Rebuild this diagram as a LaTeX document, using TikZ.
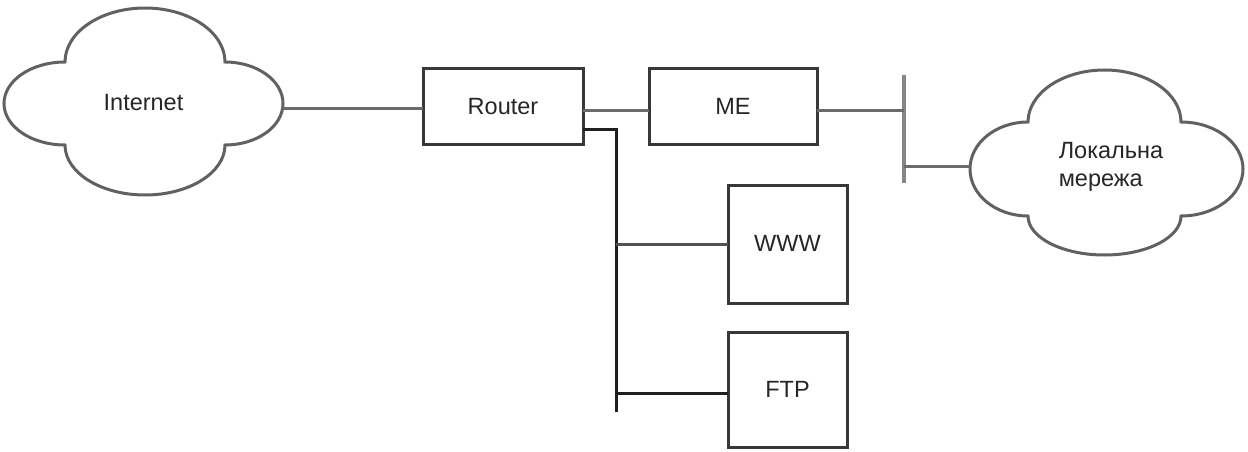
\documentclass[tikz,border=0pt]{standalone}
\usepackage{fontspec}
\setmainfont{Liberation Sans}
\begin{document}
\begin{tikzpicture}[x=1pt,y=-1pt,
  lbl/.style={font=\fontsize{23.5}{28}\selectfont, text=black!85},
  box/.style={draw=black!78, line width=3pt, fill=white, inner sep=0pt, outer sep=0pt, lbl},
  cloudbox/.style={inner sep=0pt, outer sep=0pt, lbl},
  cloudline/.style={draw=black!62, line width=3pt, fill=white, line join=miter},
  link/.style={line width=3pt, draw=black!58},
  darklink/.style={line width=3pt, draw=black!88},
  barline/.style={line width=4pt, draw=black!48}]
\useasboundingbox (0,0) rectangle (1248,452);
\newcommand\mycloud[8]{%
  \pgfmathsetmacro\cmx{(#5+#6)/2}%
  \pgfmathsetmacro\cmy{(#7+#8)/2}%
  \path[cloudline] (#5,#7)
   .. controls (#5,{#7-0.552*(#7-#3)}) and ({\cmx-0.552*(\cmx-#5)},#3) .. (\cmx,#3)
   .. controls ({\cmx+0.552*(#6-\cmx)},#3) and (#6,{#7-0.552*(#7-#3)}) .. (#6,#7)
   .. controls ({#6+0.552*(#2-#6)},#7) and (#2,{\cmy-0.552*(\cmy-#7)}) .. (#2,\cmy)
   .. controls (#2,{\cmy+0.552*(#8-\cmy)}) and ({#6+0.552*(#2-#6)},#8) .. (#6,#8)
   .. controls (#6,{#8+0.552*(#4-#8)}) and ({\cmx+0.552*(#6-\cmx)},#4) .. (\cmx,#4)
   .. controls ({\cmx-0.552*(\cmx-#5)},#4) and (#5,{#8+0.552*(#4-#8)}) .. (#5,#8)
   .. controls ({#5-0.552*(#5-#1)},#8) and (#1,{\cmy+0.552*(#8-\cmy)}) .. (#1,\cmy)
   .. controls (#1,{\cmy-0.552*(\cmy-#7)}) and ({#5-0.552*(#5-#1)},#7) .. cycle;}
% clouds
\mycloud{4}{283}{8}{195}{65}{225}{62}{145}
\mycloud{970}{1243}{70}{255}{1028}{1181}{122}{216}
\node[cloudbox, minimum width=279pt, minimum height=187pt] (inet) at (143.5,103) {Internet};
\node[cloudbox, align=left] (lan) at (1111,167) {Локальна\\мережа};
\coordinate (lanL) at (970,166);
% boxes
\node[box, minimum width=160pt, minimum height=75pt] (router) at (503,106.5) {Router};
\node[box, minimum width=168pt, minimum height=75pt] (me) at (733,106.5) {ME};
\node[box, minimum width=119pt, minimum height=118pt] (www) at (787.5,244) {\raisebox{2pt}{WWW}};
\node[box, minimum width=119pt, minimum height=115pt] (ftp) at (787.5,389.5) {FTP};
% bar
\coordinate (bartop) at (903.5,75);
\coordinate (barbot) at (903.5,183);
\draw[barline] (bartop) -- (barbot);
% links
\draw[link] ([yshift=-1.5pt]router.west -| inet.east) -- ([yshift=-1.5pt]router.west);
\draw[link] ([yshift=-3.5pt]router.east) -- ([yshift=-3.5pt]me.west);
\draw[link] ([yshift=-3.5pt]me.east) -- ([yshift=-3.5pt]me.east -| bartop);
\draw[link] (lanL -| bartop) -- (lanL);
\coordinate (branch) at (616,129);
\coordinate (branchend) at (616,412);
\draw[darklink] (router.east |- branch) -- (branch) -- (branchend);
\draw[link, draw=black!68] (branch |- www.west) -- (www.west);
\draw[darklink] ([yshift=-3.5pt]branch |- ftp.west) -- ([yshift=-3.5pt]ftp.west);
\end{tikzpicture}
\end{document}
